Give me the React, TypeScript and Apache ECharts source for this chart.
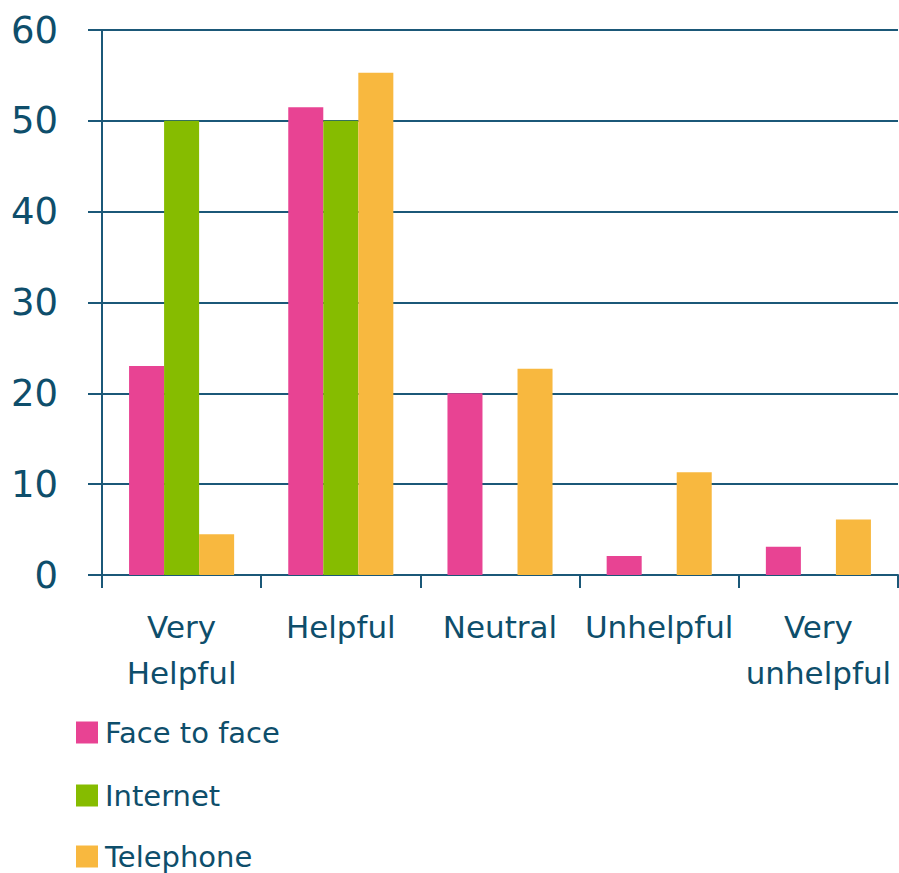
import React, { useEffect, useRef } from "react";
import * as echarts from "echarts";

const categories = ["Very\nHelpful", "Helpful", "Neutral", "Unhelpful", "Very\nunhelpful"];
const seriesNames = ["Face to face", "Internet", "Telephone"];
const faceToFace = [23, 51.5, 20, 2.1, 3.1];
const internet = [50, 50, 0, 0, 0];
const telephone = [4.5, 55.3, 22.7, 11.3, 6.1];
const colors = ["#E84393", "#86BC00", "#F8B83F"];

const textColor = "#0E4E6B";
const lineColor = "#1B5878";
const font = "DejaVu Sans";
const legendCenters = [729, 792, 853];

export default function App() {
  const ref = useRef<HTMLDivElement>(null);
  useEffect(() => {
    if (!ref.current) return;
    const chart = echarts.init(ref.current, undefined, { renderer: "svg" });
    const values = [faceToFace, internet, telephone];
    chart.setOption({
      animation: false,
      color: colors,
      grid: { left: 102, right: 1, top: 30, bottom: 298, containLabel: false },
      legend: seriesNames.map((name, i) => ({
        orient: "vertical",
        left: 76,
        top: legendCenters[i] - 11,
        padding: 0,
        itemWidth: 22,
        itemHeight: 22,
        icon: "rect",
        textStyle: {
          color: textColor,
          fontSize: 29,
          lineHeight: 22,
          fontFamily: font,
          padding: [0, 0, 0, 2],
        },
        data: [name],
      })),
      xAxis: {
        type: "category",
        data: categories,
        axisLine: { lineStyle: { color: lineColor, width: 2 } },
        axisTick: { show: true, length: 13, lineStyle: { color: lineColor, width: 2 } },
        axisLabel: {
          color: textColor,
          fontSize: 31,
          fontFamily: font,
          lineHeight: 46,
          margin: 29,
          interval: 0,
        },
      },
      yAxis: {
        type: "value",
        min: 0,
        max: 60,
        interval: 10,
        axisLine: { show: true, lineStyle: { color: lineColor, width: 2 } },
        axisTick: { show: true, length: 14, lineStyle: { color: lineColor, width: 2 } },
        splitLine: { show: true, lineStyle: { color: lineColor, width: 2 } },
        axisLabel: { color: textColor, fontSize: 37, fontFamily: font, margin: 44 },
      },
      series: seriesNames.map((name, i) => ({
        name,
        type: "bar",
        data: values[i],
        barGap: "0%",
        barCategoryGap: "34%",
        itemStyle: { color: colors[i] },
      })),
    });
    return () => chart.dispose();
  }, []);
  return (
    <div
      ref={ref}
      style={{ position: "fixed", left: 0, top: 0, width: 899, height: 873, background: "#fff" }}
    />
  );
}
